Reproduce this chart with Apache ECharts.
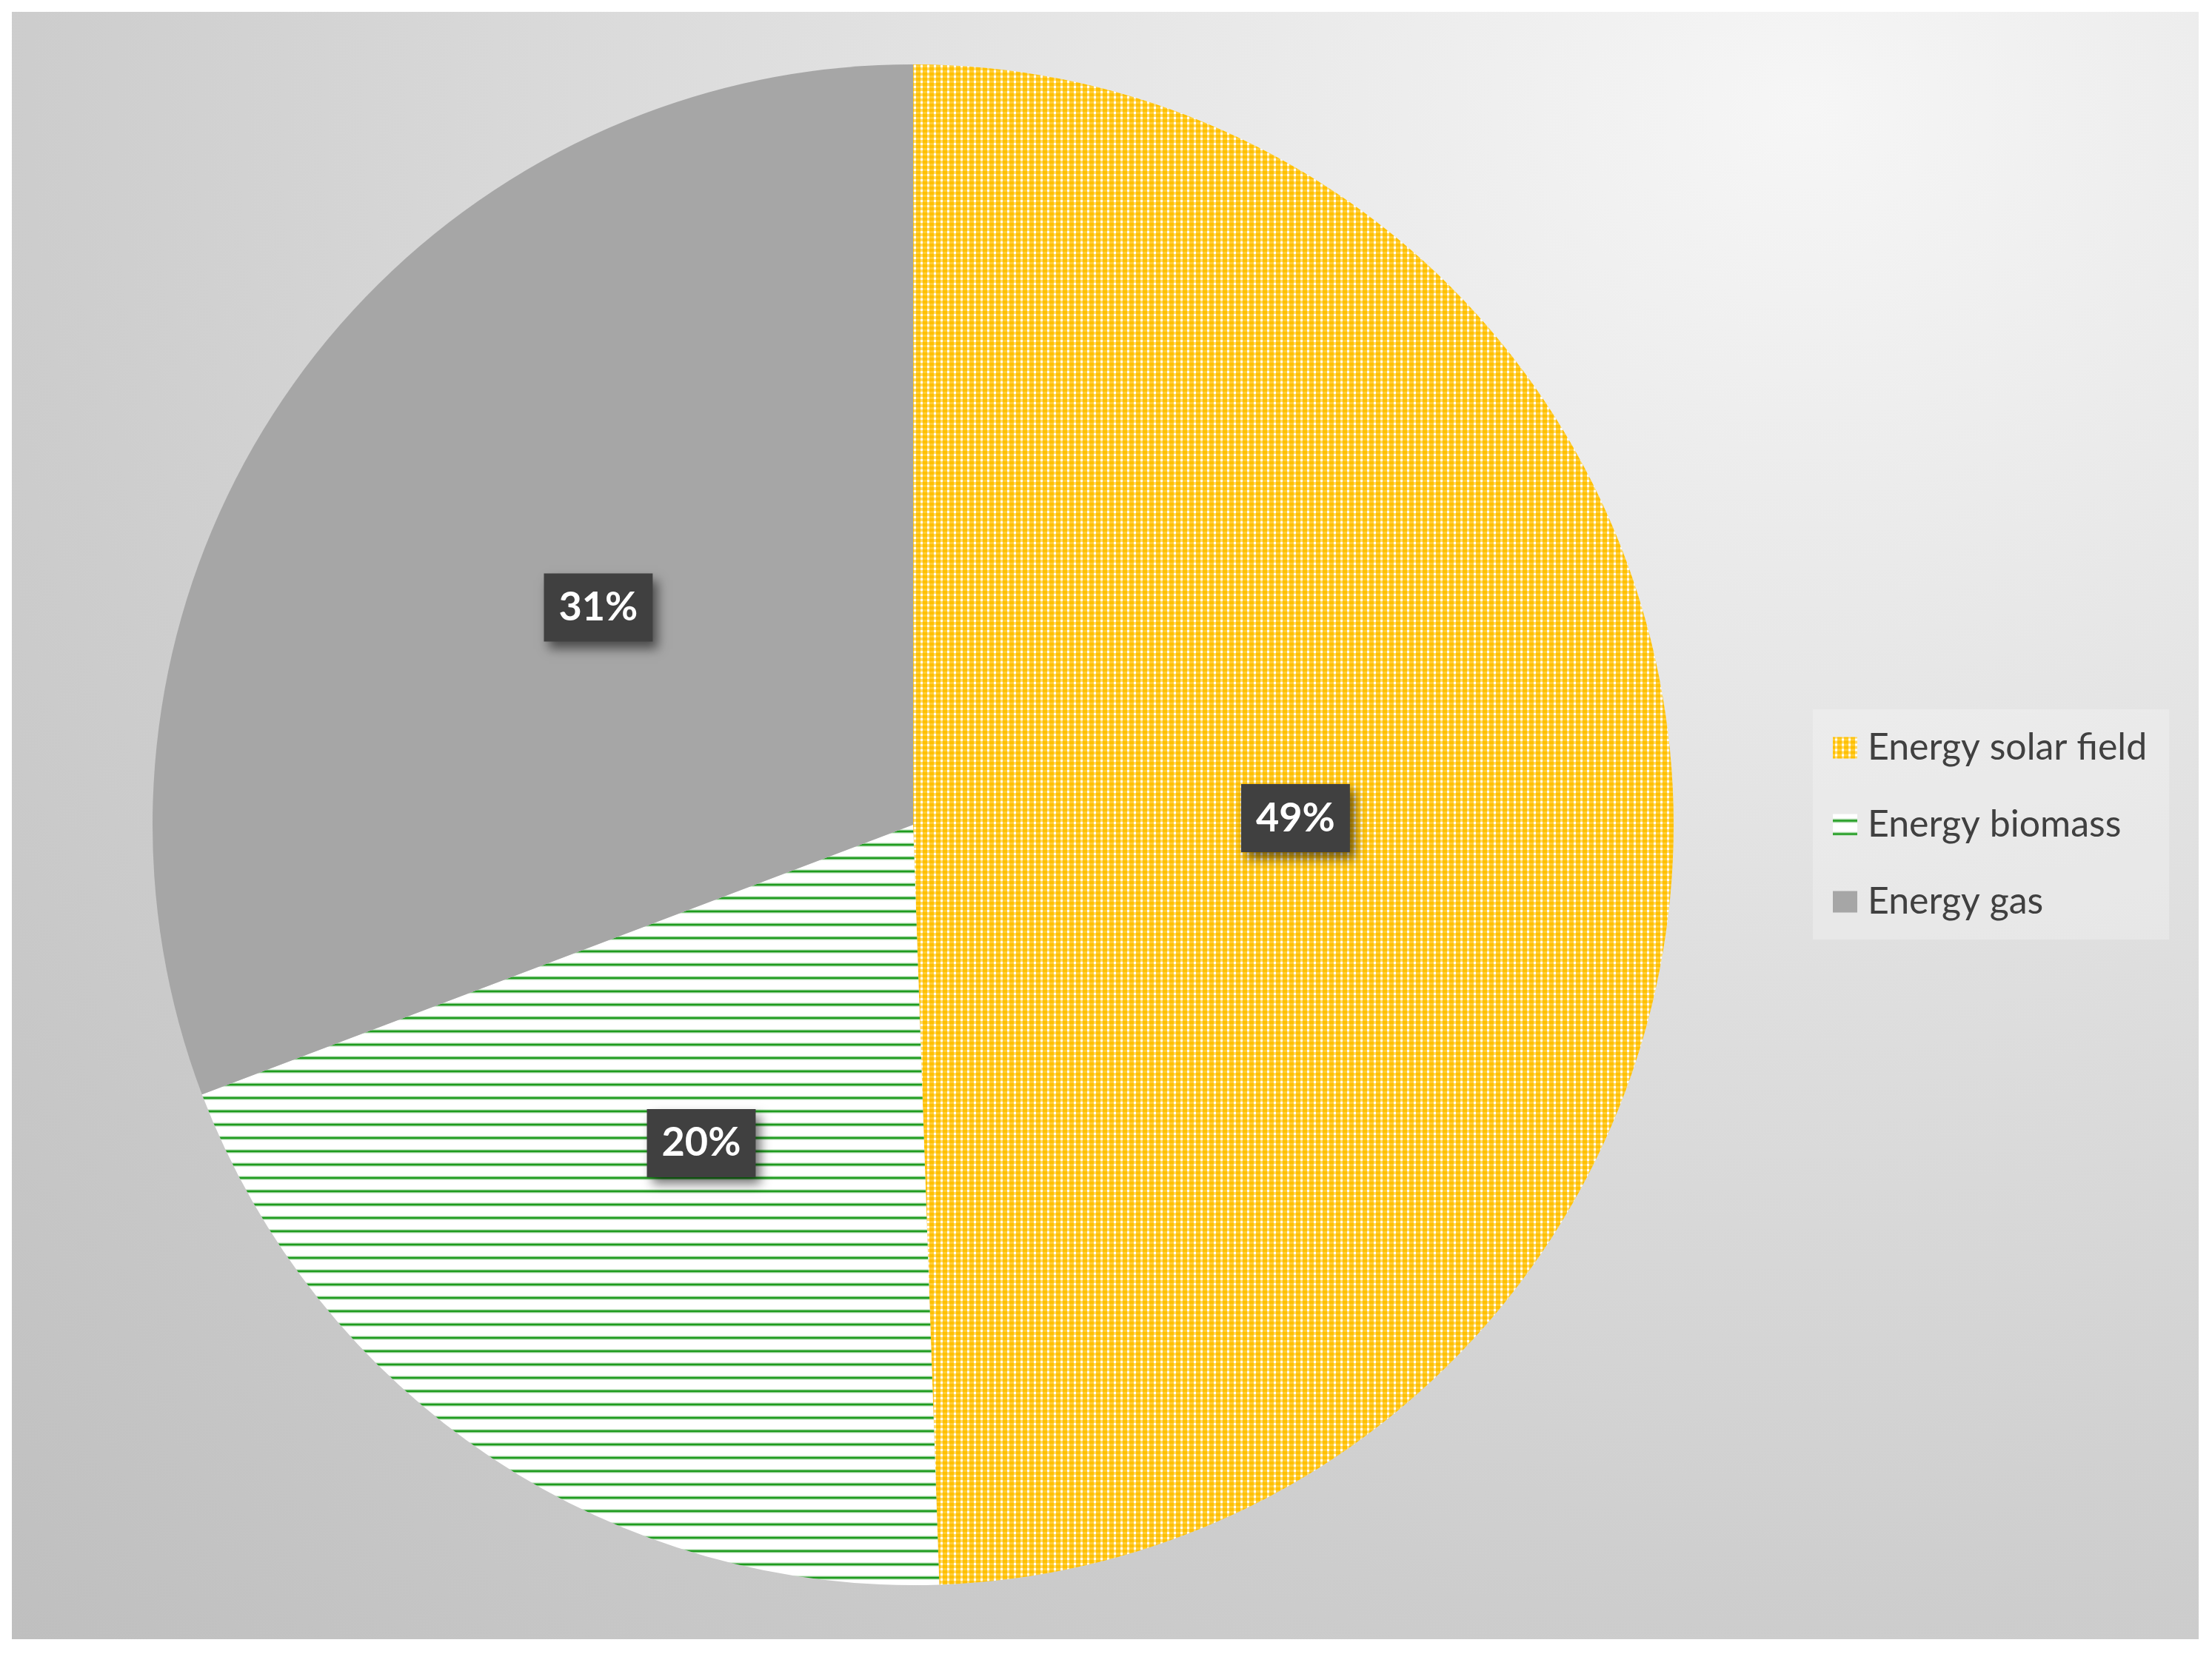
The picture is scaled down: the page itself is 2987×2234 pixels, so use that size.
<!DOCTYPE html>
<html>
<head>
<meta charset="utf-8">
<script src="https://cdn.jsdelivr.net/npm/echarts@6/dist/echarts.min.js"></script>
<style>
  html, body { margin: 0; padding: 0; background: #ffffff; }
  #chart {
    position: absolute; left: 16px; top: 16px; width: 2953px; height: 2198px;
    background: radial-gradient(ellipse farthest-corner at 82% 6%, #f6f6f6 0%, #e2e2e2 35%, #cdcdcd 70%, #bfbfbf 100%);
  }
</style>
</head>
<body>
<div id="chart"></div>
<script>
// ---- data ----
const categories = ['Energy solar field', 'Energy biomass', 'Energy gas'];
const shares = [49.5, 19.8, 30.8];

// ---- fill patterns ----
function solarTile() {
  const c = document.createElement('canvas');
  c.width = 9; c.height = 7;
  const g = c.getContext('2d');
  g.fillStyle = '#FFC000'; g.fillRect(0, 0, 9, 7);
  g.fillStyle = 'rgba(255,255,255,0.40)'; g.fillRect(3, 0, 3, 7);
  g.fillStyle = 'rgba(255,255,255,0.22)'; g.fillRect(0, 2, 9, 3);
  g.fillStyle = 'rgba(255,255,255,0.95)'; g.fillRect(3, 2, 3, 3);
  return c;
}
function biomassTile() {
  const c = document.createElement('canvas');
  c.width = 4; c.height = 18;
  const g = c.getContext('2d');
  g.fillStyle = '#ffffff'; g.fillRect(0, 0, 4, 18);
  g.fillStyle = 'rgba(30,155,30,1)'; g.fillRect(0, 8, 4, 2);
  g.fillStyle = 'rgba(30,155,30,0.55)'; g.fillRect(0, 7, 4, 1); g.fillRect(0, 10, 4, 1);
  g.fillStyle = 'rgba(30,155,30,0.18)'; g.fillRect(0, 6, 4, 1); g.fillRect(0, 11, 4, 1);
  return c;
}
const fills = [
  { image: solarTile(), repeat: 'repeat' },
  { image: biomassTile(), repeat: 'repeat' },
  '#A6A6A6'
];

const chart = echarts.init(document.getElementById('chart'), null, { renderer: 'canvas' });
chart.setOption({
  backgroundColor: 'transparent',
  animation: false,
  legend: {
    orient: 'vertical',
    left: 2432,
    top: 942,
    data: categories,
    backgroundColor: 'rgba(245,245,245,0.35)',
    padding: [27, 30, 26, 27],
    itemWidth: 33,
    itemHeight: 29,
    itemGap: 54,
    icon: 'rect',
    textStyle: {
      fontFamily: 'Lato',
      fontSize: 50,
      lineHeight: 50,
      color: '#404040',
      padding: [0, 0, 0, 9]
    }
  },
  series: [{
    type: 'pie',
    center: [1217, 1098],
    radius: 1027,
    startAngle: 90,
    clockwise: true,
    avoidLabelOverlap: false,
    itemStyle: { borderWidth: 0 },
    label: {
      show: true,
      position: 'inside',
      formatter: p => Math.round(p.percent) + '%',
      fontFamily: 'Lato',
      fontWeight: 'bold',
      fontSize: 54,
      lineHeight: 56,
      color: '#ffffff',
      backgroundColor: '#404040',
      padding: [18, 20],
      shadowColor: 'rgba(0,0,0,0.55)',
      shadowBlur: 14,
      shadowOffsetX: 7,
      shadowOffsetY: 9
    },
    labelLine: { show: false },
    emphasis: { disabled: true },
    data: categories.map((name, i) => ({
      name: name,
      value: shares[i],
      itemStyle: { color: fills[i] }
    }))
  }]
});
</script>
</body>
</html>
